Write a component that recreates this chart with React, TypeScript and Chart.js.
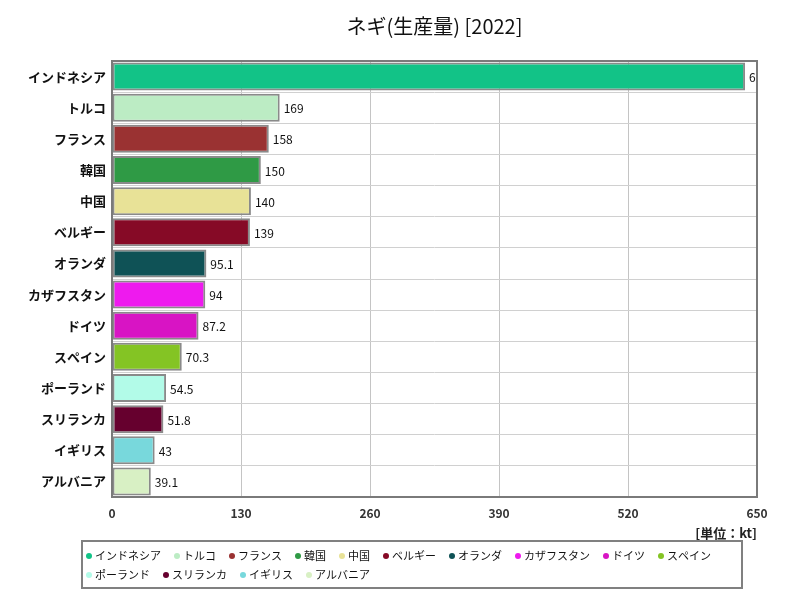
import React, { useEffect, useRef } from "react";
import { Chart, registerables } from "chart.js";

Chart.register(...registerables);

const TITLE = "ネギ(生産量) [2022]";
const UNIT = "[単位：kt]";
const categories = ["インドネシア", "トルコ", "フランス", "韓国", "中国", "ベルギー", "オランダ", "カザフスタン", "ドイツ", "スペイン", "ポーランド", "スリランカ", "イギリス", "アルバニア"];
const values = [638, 169, 158, 150, 140, 139, 95.1, 94, 87.2, 70.3, 54.5, 51.8, 43, 39.1];
const colors = ["#12c387", "#bcecc4", "#9a3232", "#2f9a45", "#e8e297", "#860a26", "#0f5256", "#ee1aee", "#d814c4", "#84c424", "#b2fbe8", "#66002e", "#78d8dc", "#d8f0c4"];
const xTicks = [0, 130, 260, 390, 520, 650];

const JP = '"Noto Sans CJK JP", "Noto Sans", sans-serif';

const overlay = {
  id: "overlay",
  afterDatasetsDraw(chart: any) {
    const { ctx, chartArea } = chart;
    const meta = chart.getDatasetMeta(0);
    ctx.save();
    ctx.beginPath();
    ctx.rect(chartArea.left, chartArea.top, chartArea.right - chartArea.left - 1, chartArea.bottom - chartArea.top);
    ctx.clip();
    ctx.font = `12px ${JP}`;
    ctx.fillStyle = "#111";
    ctx.textBaseline = "middle";
    ctx.textAlign = "left";
    meta.data.forEach((bar: any, i: number) => {
      ctx.fillText(String(values[i]), bar.x + 4, bar.y + 1);
    });
    ctx.restore();
  },
  afterDraw(chart: any) {
    const { ctx, chartArea } = chart;
    ctx.save();
    // frame
    ctx.strokeStyle = "#7a7a7a";
    ctx.lineWidth = 2;
    ctx.strokeRect(chartArea.left, chartArea.top, chartArea.right - chartArea.left, chartArea.bottom - chartArea.top);
    // title
    ctx.fillStyle = "#111";
    ctx.font = `20px ${JP}`;
    ctx.textAlign = "center";
    ctx.textBaseline = "middle";
    ctx.fillText(TITLE, (chartArea.left + chartArea.right) / 2, 26);
    // unit
    ctx.font = `bold 13px ${JP}`;
    ctx.textAlign = "right";
    ctx.fillStyle = "#222";
    ctx.fillText(UNIT, chartArea.right, 533);
    // legend
    const bx = 82, by = 541, bw = 660, bh = 47;
    ctx.fillStyle = "#fff";
    ctx.fillRect(bx, by, bw, bh);
    ctx.strokeStyle = "#808080";
    ctx.lineWidth = 2;
    ctx.strokeRect(bx, by, bw, bh);
    ctx.font = `11px ${JP}`;
    ctx.textAlign = "left";
    let x = bx + 4;
    let y = by + 15;
    categories.forEach((c, i) => {
      const w = ctx.measureText(c).width;
      if (x + 10 + w > bx + bw - 4) {
        x = bx + 4;
        y += 19;
      }
      ctx.fillStyle = colors[i];
      ctx.beginPath();
      ctx.arc(x + 3, y, 3, 0, Math.PI * 2);
      ctx.fill();
      ctx.fillStyle = "#111";
      ctx.fillText(c, x + 9, y);
      x += 9 + w + 13;
    });
    ctx.restore();
  },
};

export default function App() {
  const ref = useRef<HTMLCanvasElement>(null);
  useEffect(() => {
    const chart = new Chart(ref.current!, {
      type: "bar",
      data: {
        labels: categories,
        datasets: [
          {
            data: values,
            backgroundColor: colors,
            borderColor: "#8a8a8a",
            borderWidth: 2,
            borderSkipped: false,
            categoryPercentage: 1,
            barPercentage: 0.9,
          },
        ],
      },
      options: {
        indexAxis: "y",
        animation: false,
        responsive: false,
        layout: { padding: { top: 61, right: 43, left: 0, bottom: 0 } },
        plugins: { legend: { display: false }, title: { display: false }, tooltip: { enabled: false } },
        scales: {
          x: {
            min: 0,
            max: 650,
            afterBuildTicks(scale: any) {
              scale.ticks = xTicks.map((v) => ({ value: v }));
            },
            afterFit(scale: any) {
              scale.height = 103;
            },
            ticks: { padding: 9, color: "#333", font: { family: JP, size: 12, weight: "bold" } },
            grid: { color: "#c4c4c4", lineWidth: 1, drawTicks: false },
            border: { display: false },
          },
          y: {
            afterFit(scale: any) {
              scale.width = 112;
            },
            ticks: { padding: 6, color: "#111", font: { family: JP, size: 13, weight: "bold" } },
            grid: { color: "#d0d0d0", lineWidth: 1, drawTicks: false, offset: true },
            border: { display: false },
          },
        },
      },
      plugins: [overlay],
    });
    return () => chart.destroy();
  }, []);
  return (
    <div style={{ position: "fixed", left: 0, top: 0, width: 800, height: 600, background: "#fff" }}>
      <canvas ref={ref} width={800} height={600} />
    </div>
  );
}
